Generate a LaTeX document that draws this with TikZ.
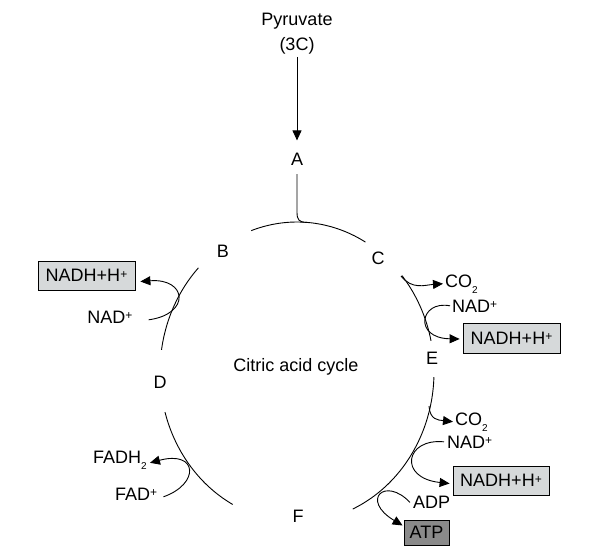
\documentclass[tikz,border=0pt]{standalone}
\usepackage{fontspec}
\setmainfont{Liberation Sans}
\usetikzlibrary{arrows.meta}
\definecolor{lightbox}{HTML}{D6D9DA}
\definecolor{darkbox}{HTML}{8A8A8A}
\newcommand{\mysup}[1]{\raisebox{3.5pt}{\fontsize{12}{12}\selectfont #1}}
\newcommand{\mysub}[1]{\raisebox{-6pt}{\fontsize{10}{10}\selectfont #1}}
\tikzset{
  lbl/.style={font=\fontsize{18}{20}\selectfont, inner sep=0pt},
  boxnode/.style={lbl, draw, line width=0.8pt, fill=lightbox},
  atpbox/.style={lbl, draw, line width=0.8pt, fill=darkbox},
  arr/.style={-{Triangle[length=10pt,width=9pt]}, line width=0.9pt},
  cyc/.style={line width=0.9pt},
}
\begin{document}
\begin{tikzpicture}[x=1pt,y=-1pt]
\useasboundingbox (0,0) rectangle (592,558);
% labels
\node[lbl, anchor=base] (pyr) at (297,25) {Pyruvate};
\node[lbl, anchor=base] (c3) at (297,50) {(3C)};
\node[lbl, anchor=base] (A) at (297,165) {A};
\node[lbl, anchor=base] (B) at (223,257) {B};
\node[lbl, anchor=base] (C) at (378,264) {C};
\node[lbl, anchor=base] (D) at (160,388) {D};
\node[lbl, anchor=base] (E) at (432,364) {E};
\node[lbl, anchor=base] (F) at (298,522) {F};
\node[lbl, anchor=base] (cyc) at (296,371) {Citric acid cycle};
% pyruvate arrow
\draw[arr, shorten <=3pt, shorten >=12pt] (c3.south) -- (A.north);
% connector from A to cycle
\draw[cyc] ([yshift=-9pt]A.south) -- (297,212) .. controls (297,220) and (299,222.3) .. (307,222.4);
% cycle arcs (ellipse)
\draw[cyc] plot[domain=60:109.5, samples=40] ({297+137*cos(\x)},{372-150*sin(\x)});
\draw[cyc] plot[domain=136:171.5, samples=40] ({297+137*cos(\x)},{372-150*sin(\x)});
\draw[cyc] plot[domain=195.5:242, samples=40] ({297+137*cos(\x)},{372-150*sin(\x)});
\draw[cyc] plot[domain=-66:-2, samples=50] ({297+137*cos(\x)},{372-150*sin(\x)});
\draw[cyc] plot[domain=12:40, samples=30] ({297+137*cos(\x)},{372-150*sin(\x)});
% left: NAD+ -> NADH
\node[boxnode, minimum width=97pt, minimum height=29pt] (nadhL) at (86.5,275.5) {NADH+H\mysup{+}};
\node[lbl, anchor=base] (nadL) at (110,323) {NAD\mysup{+}};
\draw[arr] ([xshift=16pt,yshift=-3pt]nadL.east) .. controls (191,314) and (187,278) .. ([xshift=5pt,yshift=-6pt]nadhL.east);
% right top: CO2, NAD+ -> NADH
\coordinate (cs1) at (401,276);
\node[lbl, anchor=base west] (co2a) at (445,287) {CO\mysub{2}};
\draw[arr] (cs1) .. controls (412,290) and (425,285) .. ([xshift=-2pt]co2a.west);
\node[lbl, anchor=base west] (nadR) at (452,312) {NAD\mysup{+}};
\node[boxnode, minimum width=97pt, minimum height=30pt] (nadhR) at (511.5,338) {NADH+H\mysup{+}};
\draw[arr] ([xshift=-2pt]nadR.west) .. controls (420,300) and (413,338) .. ([xshift=-3pt,yshift=-1pt]nadhR.west);
% lower right: CO2, NAD+ -> NADH, ADP -> ATP
\coordinate (cs2) at (429,406);
\node[lbl, anchor=base west] (co2b) at (455,425) {CO\mysub{2}};
\draw[arr] (cs2) .. controls (430,420) and (438,420) .. ([xshift=-2pt]co2b.west);
\node[lbl, anchor=base west] (nadR2) at (447,448) {NAD\mysup{+}};
\node[boxnode, minimum width=96pt, minimum height=29pt] (nadhR2) at (501,480.5) {NADH+H\mysup{+}};
\draw[arr] ([xshift=-3pt]nadR2.west) .. controls (405,438) and (398,478) .. ([xshift=-3pt,yshift=-3pt]nadhR2.west);
\node[lbl, anchor=base west] (adp) at (413,508) {ADP};
\node[atpbox, minimum width=45pt, minimum height=25pt] (atp) at (426.5,532.5) {ATP};
\draw[arr] ([xshift=-3pt,yshift=-7pt]adp.north west) .. controls (385,476) and (360,500) .. ([xshift=-1pt,yshift=7pt]atp.west);
% lower left: FAD+ -> FADH2
\node[lbl, anchor=base west] (fadh) at (93,463) {FADH\mysub{2}};
\node[lbl, anchor=base west] (fad) at (115,500) {FAD\mysup{+}};
\draw[arr] ([xshift=6pt,yshift=-3pt]fad.east) .. controls (200,484) and (198,450) .. ([xshift=3pt,yshift=-3pt]fadh.east);
\end{tikzpicture}
\end{document}
